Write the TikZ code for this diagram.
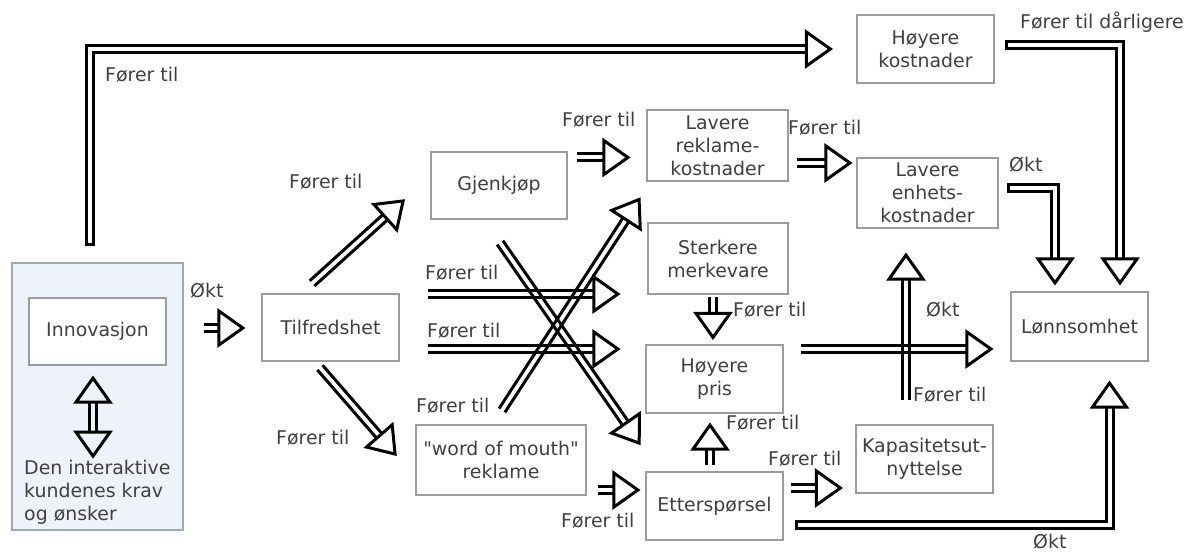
\documentclass[tikz,border=0pt]{standalone}
\usepackage{fontspec}
\newfontfamily\dejavu{DejaVu Sans}
\usetikzlibrary{calc,decorations.pathreplacing,decorations.markings}
\definecolor{txt}{HTML}{404040}
\definecolor{boxline}{HTML}{9C9C9C}
\definecolor{panel}{HTML}{EEF2FA}
\definecolor{panelline}{HTML}{A0A8B2}
\newcommand\lblfont{\dejavu\fontsize{18.9}{23}\selectfont}
\tikzset{
  box/.style={draw=boxline, line width=1.2pt, fill=white, inner sep=0pt, align=center,
    text=txt, font=\lblfont, minimum width=137pt, minimum height=68pt},
  lbl/.style={anchor=west, inner sep=0pt, text=txt, font=\lblfont, text height=13.7pt, text depth=0pt},
  tipshape/.style={draw=black, line width=3pt, line join=miter},
  headend/.style={postaction={decorate, decoration={markings, mark=at position 1 with
    {\draw[tipshape] (0pt,-17pt) -- (24pt,0pt) -- (0pt,17pt) -- cycle;}}}},
  headstart/.style={postaction={decorate, decoration={markings, mark=at position 0 with
    {\draw[tipshape] (0pt,-17pt) -- (-24pt,0pt) -- (0pt,17pt) -- cycle;}}}},
  % two parallel strokes with an open gap between them
  twin/.style={postaction={decorate, decoration={show path construction, lineto code={
    \draw[line width=3pt] ($(\tikzinputsegmentfirst)!3.5pt!90:(\tikzinputsegmentlast)$) -- ($(\tikzinputsegmentlast)!3.5pt!-90:(\tikzinputsegmentfirst)$);
    \draw[line width=3pt] ($(\tikzinputsegmentfirst)!3.5pt!-90:(\tikzinputsegmentlast)$) -- ($(\tikzinputsegmentlast)!3.5pt!90:(\tikzinputsegmentfirst)$);
  }}}},
  link/.style={twin, headend},
  bent/.style={draw=black, line width=10pt, line join=miter,
    postaction={draw=white, line width=4pt, shorten <=3pt}, headend},
}
\begin{document}
\begin{tikzpicture}[x=1pt,y=-1pt]
\useasboundingbox (0,0) rectangle (1193,553);

% boxes
\node[box, draw=panelline, fill=panel, minimum width=171pt, minimum height=267pt] (innobg) at (97.5,396.5) {};
\node[box, minimum height=67pt] (inno) at (97.5,331.5) {Innovasjon};
\node[anchor=north west, inner sep=0pt, align=left, text=txt, font=\lblfont] (kunde) at (24,460.4)
  {Den interaktive\\kundenes krav\\og ønsker};
\node[box, minimum height=67pt] (tilf) at (330.5,327.5) {Tilfredshet};
\node[box, minimum width=136pt, minimum height=67pt] (gjen) at (499,185.5) {Gjenkjøp};
\node[box, minimum width=170pt, minimum height=70pt] (word) at (501,460) {"word of mouth"\\reklame};
\node[box, minimum width=141pt, minimum height=71pt] (lrek) at (717.5,145.5) {Lavere\\reklame-\\kostnader};
\node[box, minimum width=140pt, minimum height=71pt] (sterk) at (718,258.5) {Sterkere\\merkevare};
\node[box] (hpris) at (714.5,379) {Høyere\\pris};
\node[box] (etter) at (714.5,506) {Etterspørsel};
\node[box] (hkost) at (925.5,49) {Høyere\\kostnader};
\node[box, minimum width=141pt, minimum height=70pt] (lenh) at (927.5,193) {Lavere\\enhets-\\kostnader};
\node[box] (kap) at (924.5,459) {Kapasitetsut-\\nyttelse};
\node[box, minimum height=69pt] (lonn) at (1079.5,326.5) {Lønnsomhet};

% bent connectors
\draw[bent] ([shift={(79,-16)}]innobg.north west) |- ([xshift=-50pt]hkost.west);
\draw[bent] ([shift={(10,-4)}]hkost.east) -| ([shift={(40.5,-32.5)}]lonn.north);
\draw[bent] ([shift={(8,-5)}]lenh.east) -| ([shift={(-24.5,-32.5)}]lonn.north);
\draw[bent] ([shift={(11,19)}]etter.east) -| ([shift={(30,45.5)}]lonn.south);

% straight connectors
\path[link, headstart] ([shift={(-4.5,36.5)}]inno.south) -- ([shift={(-4.5,66.5)}]inno.south);
\path[link] ([shift={(20,-68.5)}]innobg.east) -- ([shift={(-42.5,0.5)}]tilf.west);
\path[link] ([shift={(-18.5,-10)}]tilf.north) -- ([shift={(-45,31.5)}]gjen.west);
\path[link] ([shift={(-10.5,6)}]tilf.south) -- ([shift={(-36,-24)}]word.west);
\path[link] ([shift={(9,-28)}]gjen.east) -- ([shift={(-42.5,12)}]lrek.west);
\path[link] ([shift={(8,17.5)}]lrek.east) -- ([shift={(-30.5,-30)}]lenh.west);
\path[link] ([shift={(28,-33.5)}]tilf.east) -- ([shift={(-53.5,35.5)}]sterk.west);
\path[link] ([shift={(28,21.5)}]tilf.east) -- ([shift={(-51.5,-30)}]hpris.west);
\path[link] ([shift={(1,23)}]gjen.south) -- ([shift={(-89,-48)}]etter.north);
\path[link] ([shift={(1,-14)}]word.north) -- ([shift={(-91.5,38)}]lrek.south);
\path[link] ([shift={(-5,2)}]sterk.south) -- ([shift={(-1.5,-31)}]hpris.north);
\path[link] ([shift={(-4.5,-6)}]etter.north) -- ([shift={(-4.5,35.5)}]hpris.south);
\path[link] ([shift={(11,30)}]word.east) -- ([shift={(-31.5,-16)}]etter.west);
\path[link] ([shift={(7,-18)}]etter.east) -- ([shift={(-39,29)}]kap.west);
\path[link] ([shift={(17,-30)}]hpris.east) -- ([shift={(-43.5,22.5)}]lonn.west);
\path[link] ([shift={(-18.5,-24)}]kap.north) -- ([shift={(-21.5,50.5)}]lenh.south);

% connector labels
\node[lbl] (t1) at (105,75) {Fører til};
\node[lbl] (t2) at (289,182) {Fører til};
\node[lbl] (t3) at (562,120) {Fører til};
\node[lbl] (t4) at (788,128) {Fører til};
\node[lbl] (t5) at (1020,22) {Fører til dårligere};
\node[lbl] (t6) at (1009,165) {Økt};
\node[lbl] (t7) at (190,291) {Økt};
\node[lbl] (t8) at (425,273) {Fører til};
\node[lbl] (t9) at (427,331) {Fører til};
\node[lbl] (t10) at (416,406) {Fører til};
\node[lbl] (t11) at (276,438) {Fører til};
\node[lbl] (t12) at (733,310) {Fører til};
\node[lbl] (t13) at (726,423) {Fører til};
\node[lbl] (t14) at (768,459) {Fører til};
\node[lbl] (t15) at (561,521) {Fører til};
\node[lbl] (t16) at (926,310) {Økt};
\node[lbl] (t17) at (913,395) {Fører til};
\node[lbl] (t18) at (1033,542) {Økt};
\end{tikzpicture}
\end{document}
